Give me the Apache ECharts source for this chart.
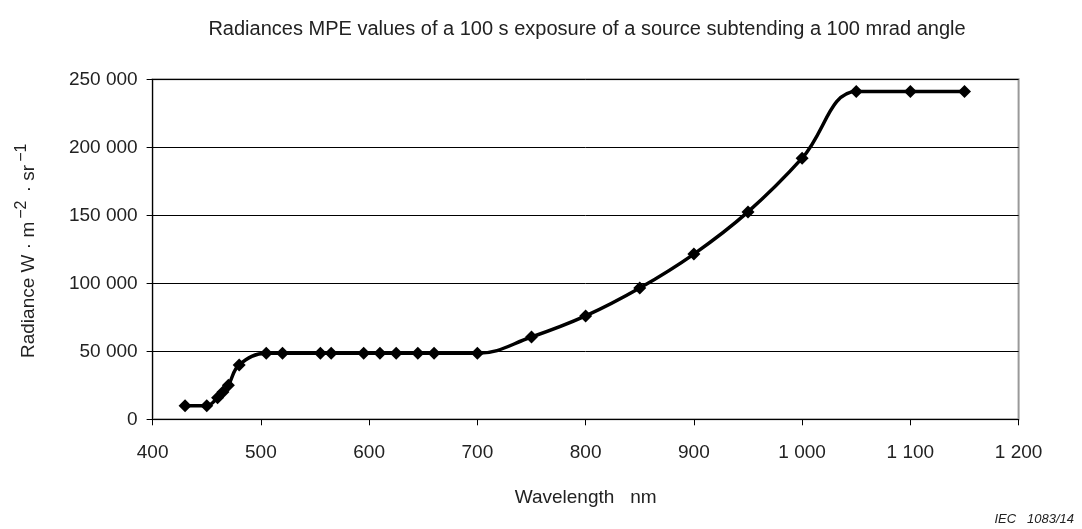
<!DOCTYPE html>
<html>
<head>
<meta charset="utf-8">
<script src="https://cdn.jsdelivr.net/npm/echarts@6/dist/echarts.min.js"></script>
<style>
html,body{margin:0;padding:0;background:#fff;}
#c{width:1082px;height:529px;}
</style>
</head>
<body>
<div id="c"></div>
<script>
var titleText = 'Radiances MPE values of a 100 s exposure of a source subtending a 100 mrad angle';
var wavelengths = [430, 450, 460, 465, 470, 480, 505, 520, 555, 565, 595, 610, 625, 645, 660, 700, 750, 800, 850, 900, 950, 1000, 1050, 1100, 1150];
var radiance = [10000, 10000, 15800, 20000, 25000, 40000, 48500, 48500, 48500, 48500, 48500, 48500, 48500, 48500, 48500, 48500, 60500, 76000, 96500, 121500, 152500, 192000, 241000, 241000, 241000];
var xTicks = [400, 500, 600, 700, 800, 900, 1000, 1100, 1200];
var yTicks = [0, 50000, 100000, 150000, 200000, 250000];

function fmt(v) {
  return String(v).replace(/\B(?=(\d{3})+(?!\d))/g, ' ');
}

var chart = echarts.init(document.getElementById('c'), null, {renderer: 'canvas'});
var FONT = '"Liberation Sans", Arial, sans-serif';
chart.setOption({
  animation: false,
  backgroundColor: '#fff',
  textStyle: {fontFamily: FONT},
  title: {
    text: titleText,
    left: 582, top: 14, textAlign: 'center',
    textStyle: {fontFamily: FONT, fontSize: 20, fontWeight: 'normal', color: '#222'}
  },
  graphic: [{
    type: 'text', right: 8, top: 513,
    style: {text: 'IEC   1083/14', fontFamily: FONT, fontSize: 13, fontStyle: 'italic', fill: '#222'}
  }],
  grid: {
    left: 152.6, right: 63.4, top: 79.3, bottom: 109.7,
    show: true, borderColor: '#999', borderWidth: 2, backgroundColor: 'transparent'
  },
  xAxis: {
    type: 'value', min: xTicks[0], max: xTicks[xTicks.length - 1], interval: 100,
    name: 'Wavelength   nm', nameLocation: 'middle', nameGap: 69,
    nameTextStyle: {fontFamily: FONT, fontSize: 19, color: '#222'},
    axisLine: {show: true, onZero: false, lineStyle: {color: '#000', width: 1}},
    axisTick: {show: true, length: 6, inside: false, lineStyle: {color: '#000'}},
    axisLabel: {margin: 24, fontSize: 19, color: '#222', fontFamily: FONT, formatter: fmt},
    splitLine: {show: false}
  },
  yAxis: {
    type: 'value', min: yTicks[0], max: yTicks[yTicks.length - 1], interval: 50000,
    name: '{n|Radiance W · m}{s|−2}{n| · sr}{s|−1}', nameLocation: 'middle', nameGap: 108,
    nameRotate: 90,
    nameTextStyle: {
      fontFamily: FONT, fontSize: 19, color: '#222',
      rich: {
        n: {fontFamily: FONT, fontSize: 19, color: '#222'},
        s: {fontFamily: FONT, fontSize: 16, color: '#222', padding: [0, 3, 15, 3]}
      }
    },
    axisLine: {show: true, lineStyle: {color: '#000', width: 1}},
    axisTick: {show: true, length: 6, lineStyle: {color: '#000'}},
    axisLabel: {margin: 15, fontSize: 19, color: '#222', fontFamily: FONT, formatter: fmt},
    splitLine: {show: true, lineStyle: {color: '#000', width: 1}}
  },
  series: [{
    type: 'line',
    data: wavelengths.map(function (w, i) { return [w, radiance[i]]; }),
    smooth: 0.4,
    symbol: 'diamond', symbolSize: 13,
    itemStyle: {color: '#000'},
    lineStyle: {color: '#000', width: 3.5}
  }]
});
</script>
</body>
</html>
